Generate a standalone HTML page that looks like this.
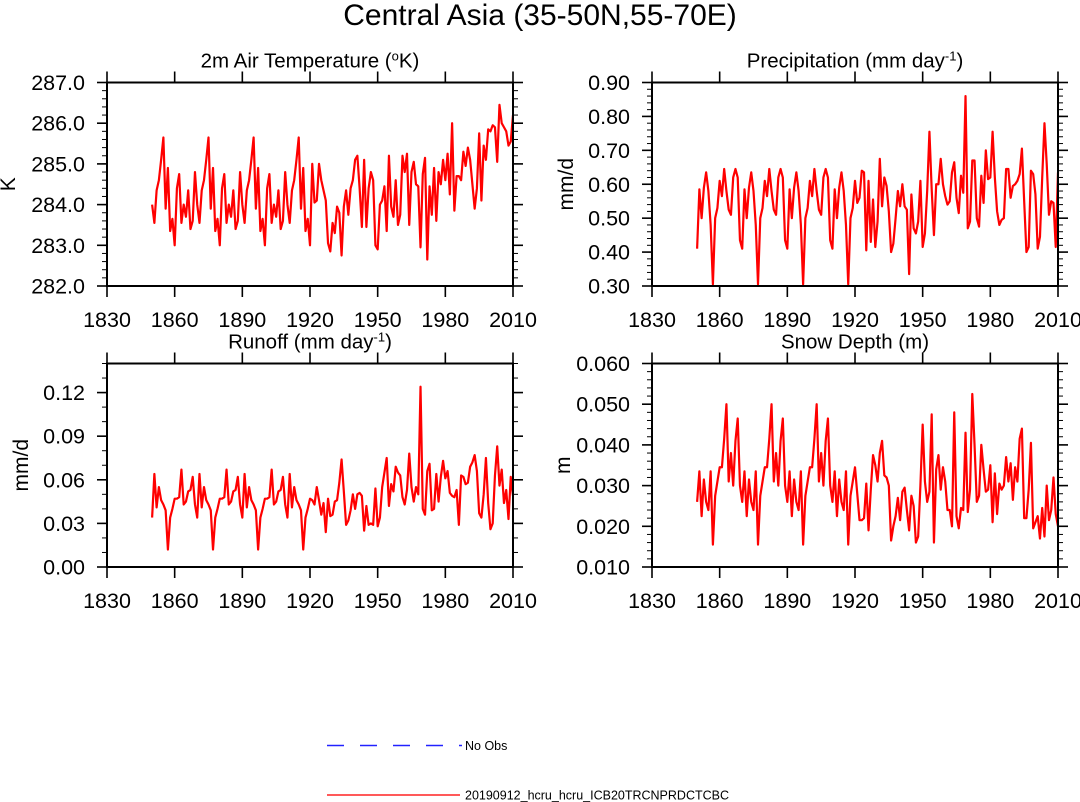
<!DOCTYPE html>
<html><head><meta charset="utf-8">
<style>
html,body{margin:0;padding:0;background:#fff;}
svg{display:block;font-family:"Liberation Sans",Arial,sans-serif;}
</style></head>
<body>
<svg id="chart" width="1080" height="802" viewBox="0 0 1080 802" xmlns="http://www.w3.org/2000/svg">
<text x="540" y="25" font-size="30" text-anchor="middle" fill="#000">Central Asia (35-50N,55-70E)</text>
<g id="legend">
  <line x1="327" y1="745.5" x2="462" y2="745.5" stroke="#2222ff" stroke-width="1.4" stroke-dasharray="17,16"/>
  <text x="465" y="750" font-size="12.5" fill="#000">No Obs</text>
  <line x1="327" y1="795" x2="460" y2="795" stroke="#ff2222" stroke-width="1.4"/>
  <text x="465" y="799.5" font-size="12.5" fill="#000">20190912_hcru_hcru_ICB20TRCNPRDCTCBC</text>
</g>
</svg>
<script>
const startYear = 1850;
const xTicks = [1830, 1860, 1890, 1920, 1950, 1980, 2010];

const tempValues = [284.0,283.55,284.35,284.6,285.1,
285.65,283.9,284.9,283.35,283.65,283.0,284.4,284.75,283.55,284.0,283.7,284.35,283.4,283.6,284.8,284.0,283.55,284.35,284.6,285.1,
285.65,283.9,284.9,283.35,283.65,283.0,284.4,284.75,283.55,284.0,283.7,284.35,283.4,283.6,284.8,284.0,283.55,284.35,284.6,285.1,
285.65,283.9,284.9,283.35,283.65,283.0,284.4,284.75,283.55,284.0,283.7,284.35,283.4,283.6,284.8,284.0,283.55,284.35,284.6,285.1,
285.65,283.9,284.9,283.35,283.65,283.0,
285.0,284.05,284.1,285.0,284.6,284.35,284.1,283.05,282.85,283.55,283.3,283.95,283.8,282.75,283.95,284.35,283.75,284.4,284.6,285.1,285.2,284.4,283.45,285.1,283.45,
284.4,284.8,284.6,283.0,282.9,
284.0,284.1,284.45,283.35,285.2,283.95,283.7,284.6,283.5,283.75,
285.2,284.8,285.25,283.5,284.8,285.05,284.5,284.45,282.95,284.75,
285.15,282.65,284.45,283.75,284.9,283.6,284.8,284.5,285.1,284.6,
285.25,284.25,286.0,283.85,284.7,284.7,284.6,285.3,284.95,285.4,
285.1,284.5,283.9,284.4,285.75,284.1,285.45,285.1,285.85,285.8,
285.95,285.9,285.05,286.45,286.0,285.9,285.8,285.45,285.55,286.2];
const tempTicks = ["282.0","283.0","284.0","285.0","286.0","287.0"];

const precipValues = [0.41,0.585,0.50,0.59,0.635,0.58,0.48,0.305,0.50,0.53,0.61,0.565,0.645,0.58,0.525,0.51,0.62,0.645,0.62,0.435,
0.41,0.585,0.50,0.59,0.635,0.58,0.48,0.305,0.50,0.53,0.61,0.565,0.645,0.58,0.525,0.51,0.62,0.645,0.62,0.435,
0.41,0.585,0.50,0.59,0.635,0.58,0.48,0.305,0.50,0.53,0.61,0.565,0.645,0.58,0.525,0.51,0.62,0.645,0.62,0.435,
0.41,0.585,0.50,0.59,0.635,0.58,0.48,0.305,
0.50,0.53,0.61,0.545,0.56,0.64,0.635,0.405,0.61,0.43,0.555,0.415,
0.49,0.675,0.535,0.62,0.595,0.52,0.40,0.425,0.50,0.58,
0.535,0.60,0.535,0.525,0.335,0.57,0.47,0.455,0.49,0.61,
0.415,0.455,0.58,0.755,0.585,0.45,0.60,0.60,0.675,0.60,
0.565,0.54,0.55,0.635,0.665,0.56,0.515,0.625,0.575,0.86,
0.47,0.49,0.67,0.67,0.50,0.475,0.625,0.545,0.70,0.615,
0.62,0.755,0.62,0.52,0.48,0.495,0.50,0.645,0.645,0.56,
0.595,0.60,0.61,0.63,0.705,0.55,0.40,0.415,0.64,0.63,
0.57,0.41,0.445,0.62,0.78,0.66,0.51,0.55,0.545,0.415,0.635];
const precipTicks = ["0.30","0.40","0.50","0.60","0.70","0.80","0.90"];

const runoffValues = [0.034,0.064,0.041,0.055,0.046,0.043,0.039,0.012,0.034,0.040,0.047,0.047,0.048,0.067,0.043,0.045,0.052,0.053,0.062,0.043,
0.034,0.064,0.041,0.055,0.046,0.043,0.039,0.012,0.034,0.040,0.047,0.047,0.048,0.067,0.043,0.045,0.052,0.053,0.062,0.043,
0.034,0.064,0.041,0.055,0.046,0.043,0.039,0.012,0.034,0.040,0.047,0.047,0.048,0.067,0.043,0.045,0.052,0.053,0.062,0.043,
0.034,0.064,0.041,0.055,0.046,0.043,0.039,0.012,
0.034,0.040,0.047,0.046,0.043,0.055,0.046,0.036,0.044,0.024,0.047,0.035,
0.036,0.045,0.046,0.058,0.074,0.052,0.029,0.032,0.039,0.050,
0.040,0.050,0.051,0.049,0.025,0.042,0.029,0.030,0.029,0.054,
0.028,0.034,0.055,0.065,0.075,0.042,0.057,0.052,0.069,0.065,
0.063,0.048,0.043,0.053,0.078,0.055,0.045,0.055,0.050,0.124,
0.040,0.036,0.066,0.071,0.039,0.040,0.064,0.045,0.062,0.073,
0.061,0.066,0.051,0.049,0.048,0.053,0.029,0.063,0.062,0.057,
0.058,0.069,0.072,0.077,0.066,0.037,0.034,0.050,0.075,0.044,
0.026,0.030,0.063,0.083,0.056,0.067,0.044,0.053,0.033,0.062,0.049];
const runoffTicks = ["0.00","0.03","0.06","0.09","0.12"];

const snowValues = [0.026,0.0335,0.0225,0.0315,0.026,0.024,0.0335,0.0155,0.0275,0.031,0.0345,0.0345,0.0415,0.050,0.031,0.038,0.030,0.041,0.0465,0.030,
0.026,0.0335,0.0225,0.0315,0.026,0.024,0.0335,0.0155,0.0275,0.031,0.0345,0.0345,0.0415,0.050,0.031,0.038,0.030,0.041,0.0465,0.030,
0.026,0.0335,0.0225,0.0315,0.026,0.024,0.0335,0.0155,0.0275,0.031,0.0345,0.0345,0.0415,0.050,0.031,0.038,0.030,0.041,0.0465,0.030,
0.026,0.0335,0.0225,0.0315,0.026,0.024,0.0335,0.0155,
0.0275,0.031,0.0345,0.028,0.0215,0.0215,0.022,0.0305,0.019,0.029,0.0375,0.035,
0.031,0.038,0.041,0.0325,0.032,0.030,0.0165,0.020,0.0225,0.027,
0.0215,0.0285,0.0295,0.024,0.019,0.0275,0.025,0.016,0.0175,0.030,
0.045,0.031,0.026,0.0285,0.0475,0.016,0.034,0.0375,0.029,0.0345,
0.031,0.024,0.024,0.020,0.048,0.0225,0.0195,0.0245,0.024,0.043,
0.0235,0.029,0.0525,0.040,0.026,0.0275,0.040,0.034,0.0285,0.029,
0.035,0.021,0.033,0.023,0.0305,0.029,0.030,0.037,0.031,0.0355,
0.0265,0.0345,0.031,0.0415,0.044,0.022,0.022,0.029,0.0405,0.0195,
0.021,0.0225,0.017,0.0245,0.0175,0.030,0.0215,0.024,0.032,0.023,0.020];
const snowTicks = ["0.010","0.020","0.030","0.040","0.050","0.060"];

const NS = "http://www.w3.org/2000/svg";
const svg = document.getElementById("chart");
function mk(tag, attrs, parent) {
  const e = document.createElementNS(NS, tag);
  for (const k in attrs) e.setAttribute(k, attrs[k]);
  (parent || svg).appendChild(e);
  return e;
}

function panel(cfg) {
  const g = mk("g", {});
  
  
  const L = cfg.left, R = cfg.left + 406, T = cfg.top, B = cfg.top + 203.5;
  const xs = v => L + (v - 1830) / 180 * (R - L);
  const ys = v => B - (v - cfg.ymin) / (cfg.ymax - cfg.ymin) * (B - T);

  const title = mk("text", {x: (L + R) / 2, y: T - 15, "font-size": 20.5, "text-anchor": "middle", fill: "#000"}, g);
  
  
  title.innerHTML = cfg.title;

  const yt = mk("text", {x: 0, y: 0, "font-size": 21, "text-anchor": "middle", fill: "#000",
    transform: "translate(" + (L - cfg.ytOff) + "," + ((T + B) / 2) + ") rotate(-90)"}, g);
  
  
  yt.textContent = cfg.ylabel;

  for (let v = cfg.ymin; v <= cfg.ymax + 1e-9; v += cfg.minor) {
    const y = ys(v);
    mk("line", {x1: L - 5, y1: y, x2: L, y2: y, stroke: "#000", "stroke-width": 1}, g);
    mk("line", {x1: R, y1: y, x2: R + 5, y2: y, stroke: "#000", "stroke-width": 1}, g);
  }
  cfg.ticks.forEach(t => {
    const y = ys(parseFloat(t));
    mk("line", {x1: L - 10, y1: y, x2: L, y2: y, stroke: "#000", "stroke-width": 1.6}, g);
    mk("line", {x1: R, y1: y, x2: R + 10, y2: y, stroke: "#000", "stroke-width": 1.6}, g);
    const lab = mk("text", {x: L - 22, y: y + 7.5, "font-size": 21.5, "text-anchor": "end", fill: "#000"}, g);
    
    
    lab.textContent = t;
  });
  xTicks.forEach(t => {
    const x = xs(t);
    mk("line", {x1: x, y1: B, x2: x, y2: B + 11, stroke: "#000", "stroke-width": 1.6}, g);
    mk("line", {x1: x, y1: T - 11, x2: x, y2: T, stroke: "#000", "stroke-width": 1.6}, g);
    const lab = mk("text", {x: x, y: B + 41, "font-size": 21.5, "text-anchor": "middle", fill: "#000"}, g);
    
    
    lab.textContent = t;
  });
  const pts = cfg.values.map((v, i) => xs(startYear + i).toFixed(2) + "," + ys(v).toFixed(2)).join(" ");
  const line = mk("polyline", {points: pts, fill: "none", stroke: "#ff0000", "stroke-width": 2.2, "stroke-linejoin": "round"}, g);
  
  
  const fr = mk("rect", {x: L, y: T, width: R - L, height: B - T, fill: "none", stroke: "#000", "stroke-width": 2}, g);
  
  
}

panel({name: "temperature", left: 107, top: 82.5, ymin: 282, ymax: 287, minor: 0.2, ticks: tempTicks, values: tempValues, ytOff: 92,
  title: '2m Air Temperature (<tspan baseline-shift="super" font-size="13">o</tspan>K)', ylabel: "K"});
panel({name: "precipitation", left: 652, top: 82.5, ymin: 0.3, ymax: 0.9, minor: 0.02, ticks: precipTicks, values: precipValues, ytOff: 79,
  title: 'Precipitation (mm day<tspan baseline-shift="super" font-size="13">-1</tspan>)', ylabel: "mm/d"});
panel({name: "runoff", left: 107, top: 363.5, ymin: 0, ymax: 0.14, minor: 0.01, ticks: runoffTicks, values: runoffValues, ytOff: 79,
  title: 'Runoff (mm day<tspan baseline-shift="super" font-size="13">-1</tspan>)', ylabel: "mm/d"});
panel({name: "snow-depth", left: 652, top: 363.5, ymin: 0.01, ymax: 0.06, minor: 0.002, ticks: snowTicks, values: snowValues, ytOff: 82,
  title: 'Snow Depth (m)', ylabel: "m"});
</script>
</body></html>
